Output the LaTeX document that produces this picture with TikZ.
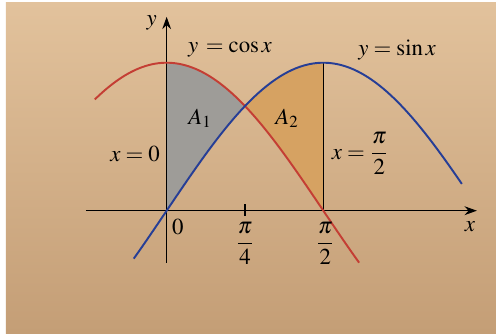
\documentclass[tikz,border=0pt]{standalone}
\usepackage{amsmath}
\usepackage{mathptmx}
\usepackage{fontspec}
\setmainfont{Liberation Serif}
\usepackage{tikz}
\usetikzlibrary{arrows.meta}
\definecolor{paper}{RGB}{226,194,156}
\definecolor{paperlow}{RGB}{196,158,118}
\definecolor{cosred}{RGB}{196,62,52}
\definecolor{sinblue}{RGB}{38,62,150}
\definecolor{areaone}{RGB}{158,156,152}
\definecolor{areatwo}{RGB}{214,162,98}
\tikzset{
	curve/.style={line width=1.1pt},
	axisline/.style={line width=0.8pt, -{Stealth[length=7pt,width=5pt]}},
	lbl/.style={font=\fontsize{13}{15}\selectfont, inner sep=1pt}
}

\begin{document}
\begin{tikzpicture}
			%%%%% START %%%%%
			
			\useasboundingbox (0, 0) rectangle (9.92, 6.66);
			\fill[white] (0, 0) rectangle (9.92, 6.66);
			\shade[top color=paper, bottom color=paperlow] (0.12, 0) rectangle (9.92, 6.62);
			
			\begin{scope}[shift={(3.333, 2.446)}, x=1.995cm, y=2.96cm]
			
			% shaded areas
			\fill[areaone] plot[domain=0:pi/4, samples=30] (\x, {cos(\x r)})
				-- plot[domain=pi/4:0, samples=30] (\x, {sin(\x r)}) -- cycle;
			\fill[areatwo] plot[domain=pi/4:pi/2, samples=30] (\x, {sin(\x r)})
				-- plot[domain=pi/2:pi/4, samples=30] (\x, {cos(\x r)}) -- cycle;
			
			% axes
			\coordinate (xstart) at (-0.81, 0);
			\coordinate (xend) at (3.11, 0);
			\coordinate (ystart) at (0, -0.353);
			\coordinate (yend) at (0, 1.31);
			\draw[axisline] (xstart) -- (xend);
			\draw[axisline] (ystart) -- (yend);
			\draw[line width=0.8pt] (pi/4, -0.035) -- (pi/4, 0.045);
			\draw[line width=0.8pt] (pi/2, 0) -- (pi/2, 1);
			
			% curves
			\draw[curve, cosred] plot[domain=-0.72:1.93, samples=80] (\x, {cos(\x r)});
			\draw[curve, sinblue] plot[domain=-0.33:2.96, samples=80] (\x, {sin(\x r)});
			
			% labels
			\node[lbl] (ylab) at (-0.15, 1.27) {$y$};
			\node[lbl] (xlab) at (3.04, -0.11) {$x$};
			\node[lbl] (coslab) at (0.635, 1.086) {$y\,=\cos x$};
			\node[lbl] (sinlab) at (2.31, 1.086) {$y=\sin x$};
			\node[lbl] (aone) at (0.334, 0.626) {$A_1$};
			\node[lbl] (atwo) at (1.207, 0.626) {$A_2$};
			\node[lbl] (xzero) at (-0.317, 0.383) {$x=0$};
			\node[lbl] (xhalf) at (1.94, 0.385) {$x=\dfrac{\pi}{2}$};
			\node[lbl] (zero) at (0.113, -0.11) {$0$};
			\node[lbl] (quarter) at (pi/4, -0.22) {$\dfrac{\pi}{4}$};
			\node[lbl] (half) at (1.59, -0.22) {$\dfrac{\pi}{2}$};
			
			\end{scope}
			
			%%%%% END %%%%%
		\end{tikzpicture}
\end{document}
